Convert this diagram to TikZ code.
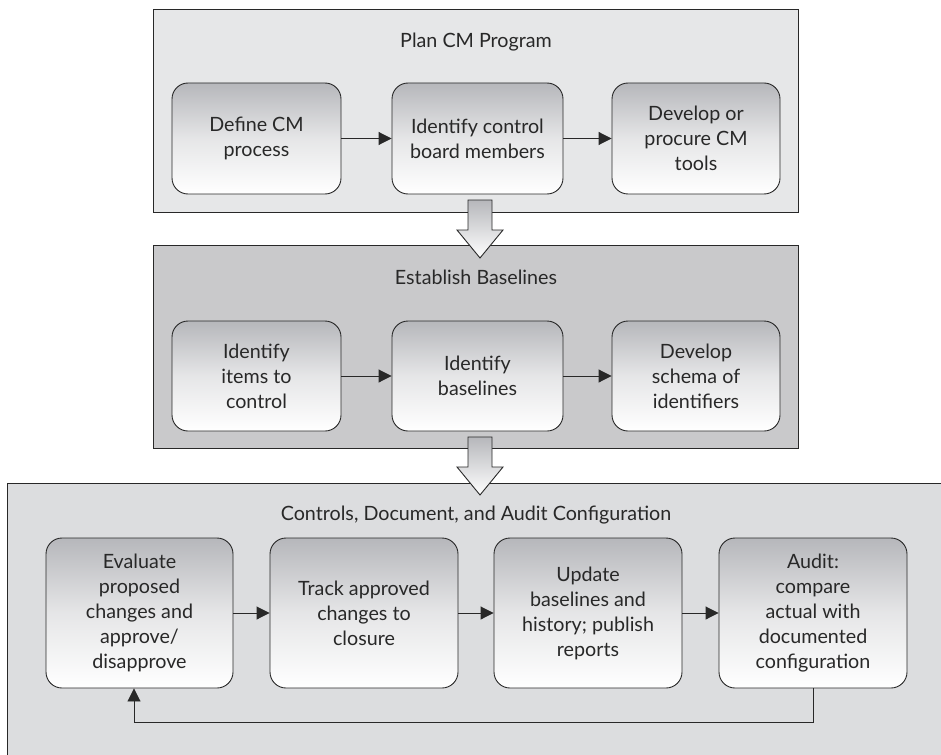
\documentclass[tikz,border=0pt]{standalone}
\usepackage{fontspec}
\setmainfont{Lato}
\usepackage{tikz}
\usetikzlibrary{arrows.meta}
\usetikzlibrary{calc}

\definecolor{paneltop}{RGB}{230,231,232}
\definecolor{panelmid}{RGB}{201,201,203}
\definecolor{panellow}{RGB}{220,221,223}
\definecolor{boxshade}{RGB}{182,183,187}
\definecolor{inkgray}{RGB}{40,40,40}

\begin{document}
\begin{tikzpicture}[x=1pt, y=-1pt, >=Triangle,
    panel/.style={draw=inkgray, line width=0.9pt, anchor=north west, inner sep=0pt},
    paneltitle/.style={text=inkgray, font=\fontsize{19.7}{25}\selectfont},
    stepbox/.style={draw=inkgray, line width=0.9pt, rounded corners=16pt,
        top color=boxshade, bottom color=white, middle color=boxshade!35!white,
        align=center, text=inkgray, inner sep=0pt,
        font=\fontsize{19.7}{25}\selectfont},
    flow/.style={->, draw=inkgray, line width=0.9pt,
        arrows={-Triangle[length=13pt, width=13pt]}},
    hollow/.style={draw=inkgray, line width=0.9pt, top color=boxshade, bottom color=white}]

    \useasboundingbox (0,0) rectangle (941,754);

    % Panels
    \node[panel, fill=paneltop, minimum width=645pt, minimum height=203pt] (plan) at (153,9) {};
    \node[panel, fill=panelmid, minimum width=645pt, minimum height=203pt] (base) at (153,245) {};
    \node[panel, fill=panellow, minimum width=960pt, minimum height=290pt] (ctrl) at (7,483) {};

    % Titles
    \node[paneltitle] (plantitle) at (476,42) {Plan CM Program};
    \node[paneltitle] (basetitle) at (476,277) {Establish Baselines};
    \node[paneltitle] (ctrltitle) at (476,515) {Controls, Document, and Audit Configuration};

    % Plan CM Program
    \node[stepbox, minimum width=169pt, minimum height=111pt] (p1) at (256.5,138.5) {Define CM\\process};
    \node[stepbox, minimum width=171pt, minimum height=111pt] (p2) at (477.5,138.5) {Identify control\\board members};
    \node[stepbox, minimum width=168pt, minimum height=111pt] (p3) at (696,138.5) {Develop or\\procure CM\\tools};
    \draw[flow] (p1) -- (p2);
    \draw[flow] (p2) -- (p3);

    % Establish Baselines
    \node[stepbox, minimum width=169pt, minimum height=110pt] (b1) at (256.5,376) {Identify\\items to\\control};
    \node[stepbox, minimum width=171pt, minimum height=110pt] (b2) at (477.5,376) {Identify\\baselines};
    \node[stepbox, minimum width=168pt, minimum height=110pt] (b3) at (696,376) {Develop\\schema of\\identifiers};
    \draw[flow] (b1) -- (b2);
    \draw[flow] (b2) -- (b3);

    % Controls, Document, and Audit Configuration
    \node[stepbox, minimum width=187pt, minimum height=150pt] (c1) at (139.5,613) {Evaluate\\proposed\\changes and\\approve/\\disapprove};
    \node[stepbox, minimum width=188pt, minimum height=150pt] (c2) at (364,613) {Track approved\\changes to\\closure};
    \node[stepbox, minimum width=188pt, minimum height=150pt] (c3) at (588,613) {Update\\baselines and\\history; publish\\reports};
    \node[stepbox, minimum width=188pt, minimum height=150pt] (c4) at (813,613) {Audit:\\compare\\actual with\\documented\\configuration};
    \draw[flow] (c1) -- (c2);
    \draw[flow] (c2) -- (c3);
    \draw[flow] (c3) -- (c4);

    % Feedback loop
    \coordinate (fb) at (134,722);
    \draw[flow] (c4.south) |- (fb) -- (fb |- c1.south);

    % Hollow arrows between panels
    \coordinate (tip1) at (480,258);
    \coordinate (tip2) at (480,495);
    \draw[hollow] (tip1) -- ++(-23,-28) -- ++(11,0) -- ++(0,-30) -- ++(24,0) -- ++(0,30) -- ++(11,0) -- cycle;
    \draw[hollow] (tip2) -- ++(-23,-28) -- ++(11,0) -- ++(0,-30) -- ++(24,0) -- ++(0,30) -- ++(11,0) -- cycle;

\end{tikzpicture}
\end{document}
